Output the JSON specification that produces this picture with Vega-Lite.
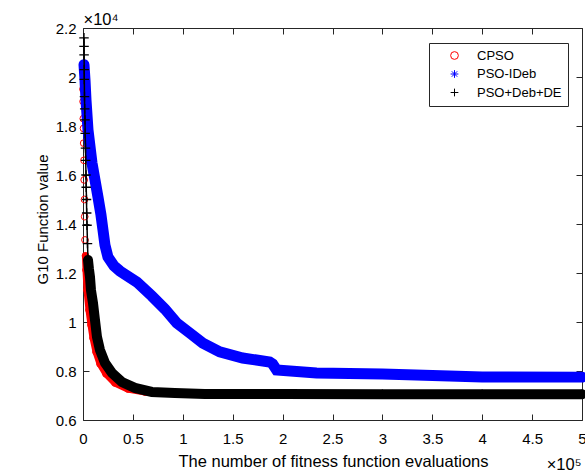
{
  "$schema": "https://vega.github.io/schema/vega-lite/v6.json",
  "width": 499,
  "height": 392,
  "autosize": {"type": "none"},
  "padding": {"left": 83, "top": 28, "right": 3, "bottom": 54},
  "background": "white",
  "config": {
    "view": {"stroke": null},
    "font": "Liberation Sans",
    "axis": {
      "grid": false,
      "domainColor": "#262626",
      "tickColor": "#262626",
      "labelColor": "#000000",
      "titleColor": "#000000",
      "labelFont": "Liberation Sans",
      "titleFont": "Liberation Sans",
      "labelFontSize": 15,
      "titleFontSize": 15,
      "titleFontWeight": "normal",
      "tickSize": -6,
      "labelFlush": false,
      "labelOverlap": false
    }
  },
  "datasets": {
    "curves": [
      {"s": "CPSO", "x": 0, "y": 19500},
      {"s": "CPSO", "x": 100, "y": 19000},
      {"s": "CPSO", "x": 300, "y": 18300},
      {"s": "CPSO", "x": 500, "y": 17900},
      {"s": "CPSO", "x": 700, "y": 17300},
      {"s": "CPSO", "x": 1000, "y": 16600},
      {"s": "CPSO", "x": 1200, "y": 15800},
      {"s": "CPSO", "x": 1500, "y": 15000},
      {"s": "CPSO", "x": 1700, "y": 14300},
      {"s": "CPSO", "x": 2000, "y": 13350},
      {"s": "CPSO", "x": 2500, "y": 12700},
      {"s": "CPSO", "x": 3000, "y": 12120},
      {"s": "CPSO", "x": 4000, "y": 11300},
      {"s": "CPSO", "x": 6000, "y": 10490},
      {"s": "CPSO", "x": 8000, "y": 9880},
      {"s": "CPSO", "x": 10000, "y": 9350},
      {"s": "CPSO", "x": 13000, "y": 8780},
      {"s": "CPSO", "x": 17000, "y": 8290},
      {"s": "CPSO", "x": 23000, "y": 7880},
      {"s": "CPSO", "x": 32000, "y": 7510},
      {"s": "CPSO", "x": 45000, "y": 7265},
      {"s": "CPSO", "x": 62000, "y": 7143},
      {"s": "CPSO", "x": 87000, "y": 7100},
      {"s": "CPSO", "x": 117000, "y": 7060},
      {"s": "CPSO", "x": 200000, "y": 7055},
      {"s": "CPSO", "x": 300000, "y": 7053},
      {"s": "CPSO", "x": 400000, "y": 7052},
      {"s": "CPSO", "x": 500000, "y": 7052},
      {"s": "PSO-IDeb", "x": 1000, "y": 20500},
      {"s": "PSO-IDeb", "x": 2000, "y": 19880},
      {"s": "PSO-IDeb", "x": 3000, "y": 19060},
      {"s": "PSO-IDeb", "x": 5000, "y": 17840},
      {"s": "PSO-IDeb", "x": 9000, "y": 16490},
      {"s": "PSO-IDeb", "x": 12000, "y": 15800},
      {"s": "PSO-IDeb", "x": 15000, "y": 15100},
      {"s": "PSO-IDeb", "x": 18000, "y": 14370},
      {"s": "PSO-IDeb", "x": 20000, "y": 13760},
      {"s": "PSO-IDeb", "x": 22000, "y": 13140},
      {"s": "PSO-IDeb", "x": 25000, "y": 12650},
      {"s": "PSO-IDeb", "x": 31000, "y": 12290},
      {"s": "PSO-IDeb", "x": 37000, "y": 12080},
      {"s": "PSO-IDeb", "x": 54000, "y": 11630},
      {"s": "PSO-IDeb", "x": 69000, "y": 11060},
      {"s": "PSO-IDeb", "x": 82000, "y": 10530},
      {"s": "PSO-IDeb", "x": 94000, "y": 9960},
      {"s": "PSO-IDeb", "x": 107000, "y": 9550},
      {"s": "PSO-IDeb", "x": 120000, "y": 9140},
      {"s": "PSO-IDeb", "x": 137000, "y": 8780},
      {"s": "PSO-IDeb", "x": 160000, "y": 8530},
      {"s": "PSO-IDeb", "x": 187000, "y": 8370},
      {"s": "PSO-IDeb", "x": 190000, "y": 8290},
      {"s": "PSO-IDeb", "x": 194000, "y": 8040},
      {"s": "PSO-IDeb", "x": 234000, "y": 7920},
      {"s": "PSO-IDeb", "x": 300000, "y": 7880},
      {"s": "PSO-IDeb", "x": 367000, "y": 7800},
      {"s": "PSO-IDeb", "x": 400000, "y": 7760},
      {"s": "PSO-IDeb", "x": 500000, "y": 7750},
      {"s": "PSO+Deb+DE", "x": 1000, "y": 21600},
      {"s": "PSO+Deb+DE", "x": 1050, "y": 21250},
      {"s": "PSO+Deb+DE", "x": 1100, "y": 20900},
      {"s": "PSO+Deb+DE", "x": 1200, "y": 20300},
      {"s": "PSO+Deb+DE", "x": 1300, "y": 19900},
      {"s": "PSO+Deb+DE", "x": 1500, "y": 19200},
      {"s": "PSO+Deb+DE", "x": 1700, "y": 18700},
      {"s": "PSO+Deb+DE", "x": 2000, "y": 18250},
      {"s": "PSO+Deb+DE", "x": 2200, "y": 17700},
      {"s": "PSO+Deb+DE", "x": 2500, "y": 17100},
      {"s": "PSO+Deb+DE", "x": 2700, "y": 16600},
      {"s": "PSO+Deb+DE", "x": 3000, "y": 16000},
      {"s": "PSO+Deb+DE", "x": 3200, "y": 15500},
      {"s": "PSO+Deb+DE", "x": 3500, "y": 15000},
      {"s": "PSO+Deb+DE", "x": 3700, "y": 14450},
      {"s": "PSO+Deb+DE", "x": 4000, "y": 13950},
      {"s": "PSO+Deb+DE", "x": 4500, "y": 13200},
      {"s": "PSO+Deb+DE", "x": 5000, "y": 12530},
      {"s": "PSO+Deb+DE", "x": 6000, "y": 12150},
      {"s": "PSO+Deb+DE", "x": 7000, "y": 11840},
      {"s": "PSO+Deb+DE", "x": 8000, "y": 11300},
      {"s": "PSO+Deb+DE", "x": 10000, "y": 10780},
      {"s": "PSO+Deb+DE", "x": 12000, "y": 10080},
      {"s": "PSO+Deb+DE", "x": 14000, "y": 9390},
      {"s": "PSO+Deb+DE", "x": 17000, "y": 8860},
      {"s": "PSO+Deb+DE", "x": 22000, "y": 8330},
      {"s": "PSO+Deb+DE", "x": 29000, "y": 7920},
      {"s": "PSO+Deb+DE", "x": 39000, "y": 7550},
      {"s": "PSO+Deb+DE", "x": 52000, "y": 7310},
      {"s": "PSO+Deb+DE", "x": 69000, "y": 7145},
      {"s": "PSO+Deb+DE", "x": 92000, "y": 7100},
      {"s": "PSO+Deb+DE", "x": 122000, "y": 7062},
      {"s": "PSO+Deb+DE", "x": 200000, "y": 7058},
      {"s": "PSO+Deb+DE", "x": 300000, "y": 7056},
      {"s": "PSO+Deb+DE", "x": 400000, "y": 7055},
      {"s": "PSO+Deb+DE", "x": 500000, "y": 7054}
    ]
  },
  "data": {"name": "curves"},
  "layer": [
    {
      "transform": [{"filter": "datum.s == 'CPSO' && datum.y <= 13000"}],
      "mark": {"type": "line", "color": "#ff0000", "strokeWidth": 7, "strokeCap": "round"},
      "encoding": {
        "x": {"field": "x", "type": "quantitative", "scale": {"domain": [0, 500000], "nice": false, "zero": false},
          "axis": {"orient": "bottom", "values": [0, 50000, 100000, 150000, 200000, 250000, 300000, 350000, 400000, 450000, 500000],
            "labelExpr": "format(datum.value / 100000, '~g')", "labelPadding": 17,
            "title": "The number of fitness function evaluations", "titleFontSize": 16.5,
            "titleX": 250, "titleY": 46, "titleBaseline": "alphabetic", "titleAlign": "center"}},
        "y": {"field": "y", "type": "quantitative", "scale": {"domain": [6000, 22000], "nice": false, "zero": false},
          "axis": {"orient": "left", "values": [6000, 8000, 10000, 12000, 14000, 16000, 18000, 20000, 22000],
            "labelExpr": "format(datum.value / 10000, '~g')", "labelPadding": 13,
            "title": "G10 Function value", "titleX": -36, "titleY": 191, "titleAngle": -90,
            "titleBaseline": "alphabetic", "titleAlign": "center"}}
      }
    },
    {
      "transform": [{"filter": "datum.s == 'CPSO'"}],
      "mark": {"type": "point", "filled": false, "strokeWidth": 1, "size": 45, "opacity": 1},
      "encoding": {
        "x": {"field": "x", "type": "quantitative", "scale": {"domain": [0, 500000], "nice": false, "zero": false},
          "axis": {"orient": "top", "values": [0, 50000, 100000, 150000, 200000, 250000, 300000, 350000, 400000, 450000, 500000],
            "labels": false, "title": "×10⁴", "titleFontSize": 16.5, "titleX": 0, "titleY": -4,
            "titleAlign": "left", "titleBaseline": "alphabetic", "titleAngle": 0}},
        "y": {"field": "y", "type": "quantitative", "scale": {"domain": [6000, 22000], "nice": false, "zero": false},
          "axis": {"orient": "right", "values": [6000, 8000, 10000, 12000, 14000, 16000, 18000, 20000, 22000],
            "labels": false, "title": "×10⁵", "titleFontSize": 16.5, "titleX": -1, "titleY": 441,
            "titleAlign": "right", "titleBaseline": "alphabetic", "titleAngle": 0}},
        "color": {"field": "s", "type": "nominal",
          "scale": {"domain": ["CPSO", "PSO-IDeb", "PSO+Deb+DE"], "range": ["#ff0000", "#0000ff", "#000000"]},
          "legend": {"orient": "none", "legendX": 346, "legendY": 15, "title": null, "strokeColor": "#262626",
            "fillColor": "#ffffff", "padding": 6, "symbolOffset": 13, "labelOffset": 16, "labelFontSize": 13,
            "labelFont": "Liberation Sans", "labelColor": "#000000", "symbolSize": 60, "symbolStrokeWidth": 1,
            "rowPadding": 4.5}},
        "shape": {"field": "s", "type": "nominal",
          "scale": {"domain": ["CPSO", "PSO-IDeb", "PSO+Deb+DE"],
            "range": ["circle", "M-1,0L1,0M0,-1L0,1M-0.7,-0.7L0.7,0.7M-0.7,0.7L0.7,-0.7", "M-1,0L1,0M0,-1L0,1"]},
          "legend": {"orient": "none", "legendX": 346, "legendY": 15, "title": null, "strokeColor": "#262626",
            "fillColor": "#ffffff", "padding": 6, "symbolOffset": 13, "labelOffset": 16, "labelFontSize": 13,
            "labelFont": "Liberation Sans", "labelColor": "#000000", "symbolSize": 60, "symbolStrokeWidth": 1,
            "rowPadding": 4.5}}
      }
    },
    {
      "transform": [{"filter": "datum.s == 'PSO-IDeb'"}],
      "mark": {"type": "line", "color": "#0000ff", "strokeWidth": 11, "strokeCap": "round"},
      "encoding": {
        "x": {"field": "x", "type": "quantitative", "scale": {"domain": [0, 500000], "nice": false, "zero": false}, "axis": null},
        "y": {"field": "y", "type": "quantitative", "scale": {"domain": [6000, 22000], "nice": false, "zero": false}, "axis": null}
      }
    },
    {
      "transform": [{"filter": "datum.s == 'PSO-IDeb'"}],
      "mark": {"type": "point", "filled": false, "strokeWidth": 1, "size": 50, "opacity": 1},
      "encoding": {
        "x": {"field": "x", "type": "quantitative", "scale": {"domain": [0, 500000], "nice": false, "zero": false}, "axis": null},
        "y": {"field": "y", "type": "quantitative", "scale": {"domain": [6000, 22000], "nice": false, "zero": false}, "axis": null},
        "color": {"field": "s", "type": "nominal"},
        "shape": {"field": "s", "type": "nominal"}
      }
    },
    {
      "transform": [{"filter": "datum.s == 'PSO+Deb+DE'"}],
      "mark": {"type": "line", "color": "#000000", "strokeWidth": 1.5},
      "encoding": {
        "x": {"field": "x", "type": "quantitative", "scale": {"domain": [0, 500000], "nice": false, "zero": false}, "axis": null},
        "y": {"field": "y", "type": "quantitative", "scale": {"domain": [6000, 22000], "nice": false, "zero": false}, "axis": null}
      }
    },
    {
      "transform": [{"filter": "datum.s == 'PSO+Deb+DE' && datum.y <= 12600"}],
      "mark": {"type": "line", "color": "#000000", "strokeWidth": 10, "strokeCap": "round"},
      "encoding": {
        "x": {"field": "x", "type": "quantitative", "scale": {"domain": [0, 500000], "nice": false, "zero": false}, "axis": null},
        "y": {"field": "y", "type": "quantitative", "scale": {"domain": [6000, 22000], "nice": false, "zero": false}, "axis": null}
      }
    },
    {
      "transform": [{"filter": "datum.s == 'PSO+Deb+DE'"}],
      "mark": {"type": "point", "filled": false, "strokeWidth": 1.3, "size": 90, "opacity": 1},
      "encoding": {
        "x": {"field": "x", "type": "quantitative", "scale": {"domain": [0, 500000], "nice": false, "zero": false}, "axis": null},
        "y": {"field": "y", "type": "quantitative", "scale": {"domain": [6000, 22000], "nice": false, "zero": false}, "axis": null},
        "color": {"field": "s", "type": "nominal"},
        "shape": {"field": "s", "type": "nominal"}
      }
    }
  ],
  "resolve": {"axis": {"x": "independent", "y": "independent"}}
}
